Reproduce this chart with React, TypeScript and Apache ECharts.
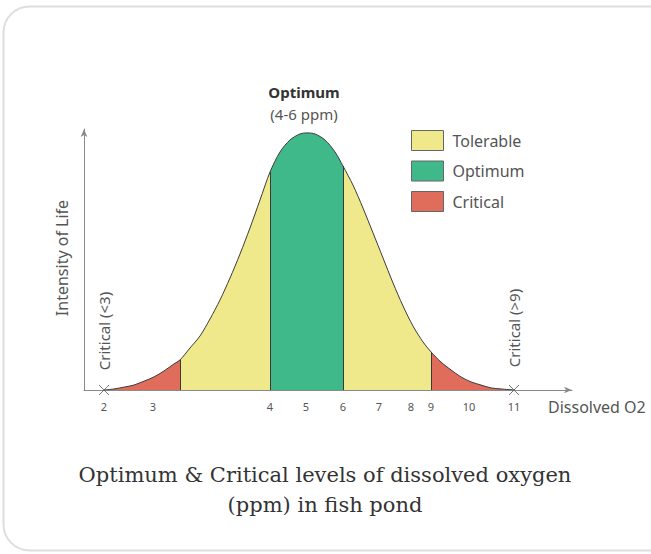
import React, { useEffect, useRef } from "react";
import * as echarts from "echarts";

// Axis: horizontal positions (in axis units) where each ppm label sits
const tickLabels = ["2", "3", "4", "5", "6", "7", "8", "9", "10", "11"];
const tickPositions = [20, 69, 186, 222, 259, 295, 327, 347, 385, 430];

// Curve: position along axis, intensity of life (0-100)
const curvePos = [
  20, 30, 40, 50, 60, 70, 80, 90, 96, 106, 116, 126, 136, 146, 156, 166, 176,
  186, 196, 206, 216, 223, 231, 241, 251, 259, 269, 279, 289, 299, 309, 319,
  329, 339, 347, 357, 367, 377, 387, 397, 407, 417, 430,
];
const curveValue = [
  0, 0.4, 1.1, 1.9, 3.4, 5.0, 7.3, 10.0, 11.5, 16.1, 20.7, 27.2, 34.5, 42.9,
  52.1, 62.1, 72.8, 83.5, 91.2, 95.8, 98.1, 98.5, 98.1, 95.8, 91.2, 85.8, 78.5,
  69.7, 60.2, 50.6, 41.0, 32.2, 24.5, 18.4, 14.6, 10.7, 7.7, 5.0, 3.1, 1.9, 0.8,
  0.4, 0,
];

// Zones along the curve
const zoneBounds = [20, 96, 186, 259, 347, 430];
const zoneNames = ["Critical", "Tolerable", "Optimum", "Tolerable", "Critical"];
const legendNames = ["Tolerable", "Optimum", "Critical"];
const legendColors = ["#F0E98C", "#40B98A", "#E06C5C"];

// Marks on the axis ("×" at 2 and 11)
const crossPositions = [20, 430];

const colorOf = (name: string) => legendColors[legendNames.indexOf(name)];

export default function App() {
  const ref = useRef<HTMLDivElement>(null);

  useEffect(() => {
    if (!ref.current) return;
    const chart = echarts.init(ref.current, undefined, { renderer: "svg" });
    const font = "'Noto Sans', sans-serif";
    const pts = curvePos.map((p, i) => [p, curveValue[i]]);
    const valueAt = (p: number) => curveValue[curvePos.indexOf(p)];

    const zoneSeries = zoneNames.map((name, i) => ({
      type: "line",
      name,
      data: pts.filter((d) => d[0] >= zoneBounds[i] && d[0] <= zoneBounds[i + 1]),
      showSymbol: false,
      symbol: "none",
      smooth: 0.3,
      silent: true,
      lineStyle: { width: 0, color: colorOf(name) },
      itemStyle: { color: colorOf(name) },
      areaStyle: { color: colorOf(name), opacity: 1 },
      z: 2,
    }));

    const inner = zoneBounds.slice(1, -1);

    chart.setOption({
      animation: false,
      grid: { left: 84, right: 79, top: 129, bottom: 164 },
      legend: {
        data: legendNames,
        orient: "vertical",
        left: 411,
        top: 130,
        padding: 0,
        itemWidth: 32,
        itemHeight: 20,
        itemGap: 9.5,
        icon: "rect",
        selectedMode: false,
        itemStyle: { borderColor: "#666", borderWidth: 1 },
        textStyle: { fontFamily: font, fontSize: 16, color: "#555", padding: [0, 0, 0, 4] },
      },
      xAxis: {
        type: "value",
        min: 0,
        max: 488,
        axisLine: {
          show: true,
          lineStyle: { color: "#8a8a8a", width: 1 },
          symbol: ["none", "arrow"],
          symbolSize: [5, 8],
        },
        axisTick: { show: false },
        splitLine: { show: false },
        axisLabel: {
          customValues: tickPositions,
          formatter: (v: number) => {
            const i = tickPositions.indexOf(Math.round(v));
            return i >= 0 ? tickLabels[i] : "";
          },
          fontFamily: font,
          fontSize: 11,
          color: "#555",
          margin: 11,
        },
      },
      yAxis: {
        type: "value",
        min: 0,
        max: 100,
        axisLine: {
          show: true,
          lineStyle: { color: "#8a8a8a", width: 1 },
          symbol: ["none", "arrow"],
          symbolSize: [5, 8],
        },
        axisTick: { show: false },
        axisLabel: { show: false },
        splitLine: { show: false },
      },
      series: [
        ...zoneSeries,
        {
          type: "line",
          name: "Curve",
          data: pts,
          showSymbol: false,
          symbol: "none",
          smooth: 0.3,
          silent: true,
          lineStyle: { color: "#3a3a3a", width: 1 },
          z: 4,
          markLine: {
            silent: true,
            symbol: ["none", "none"],
            label: { show: false },
            lineStyle: { color: "#3a3a3a", width: 1, type: "solid" },
            data: inner.map((b) => [{ coord: [b, 0] }, { coord: [b, valueAt(b)] }]),
          },
        },
        {
          type: "scatter",
          name: "Limits",
          data: crossPositions.map((p) => [p, 0]),
          symbol: "path://M0,0L10,10M10,0L0,10",
          symbolSize: 10,
          silent: true,
          clip: false,
          itemStyle: { color: "none", borderColor: "#555", borderWidth: 1 },
          z: 5,
        },
      ],
      graphic: [
        {
          type: "rect",
          shape: { x: 3.5, y: 6.5, width: 720, height: 544, r: 26 },
          style: { fill: "none", stroke: "#dedede", lineWidth: 2 },
          silent: true,
          z: -1,
        },
        {
          type: "text",
          x: 304,
          y: 92,
          style: {
            text: "Optimum",
            font: `bold 15px ${font}`,
            fill: "#333",
            align: "center",
            verticalAlign: "middle",
          },
        },
        {
          type: "text",
          x: 304,
          y: 114,
          style: {
            text: "(4-6 ppm)",
            font: `15px ${font}`,
            fill: "#555",
            align: "center",
            verticalAlign: "middle",
          },
        },
        {
          type: "text",
          x: 548,
          y: 407,
          style: {
            text: "Dissolved O2",
            font: `16px ${font}`,
            fill: "#555",
            align: "left",
            verticalAlign: "middle",
          },
        },
        {
          type: "text",
          x: 62,
          y: 258,
          rotation: Math.PI / 2,
          style: {
            text: "Intensity of Life",
            font: `16px ${font}`,
            fill: "#555",
            align: "center",
            verticalAlign: "middle",
          },
        },
        {
          type: "text",
          x: 104,
          y: 331,
          rotation: Math.PI / 2,
          style: {
            text: "Critical (<3)",
            font: `15px ${font}`,
            fill: "#555",
            align: "center",
            verticalAlign: "middle",
          },
        },
        {
          type: "text",
          x: 514,
          y: 328,
          rotation: Math.PI / 2,
          style: {
            text: "Critical (>9)",
            font: `15px ${font}`,
            fill: "#555",
            align: "center",
            verticalAlign: "middle",
          },
        },
        {
          type: "text",
          x: 325,
          y: 475,
          style: {
            text: "Optimum & Critical levels of dissolved oxygen",
            font: `21px 'DejaVu Serif', serif`,
            fill: "#333",
            align: "center",
            verticalAlign: "middle",
          },
        },
        {
          type: "text",
          x: 325,
          y: 505,
          style: {
            text: "(ppm) in fish pond",
            font: `21px 'DejaVu Serif', serif`,
            fill: "#333",
            align: "center",
            verticalAlign: "middle",
          },
        },
      ],
    });
    return () => chart.dispose();
  }, []);

  return (
    <div
      ref={ref}
      style={{ position: "absolute", left: 0, top: 0, width: 651, height: 554, background: "#fff" }}
    />
  );
}
